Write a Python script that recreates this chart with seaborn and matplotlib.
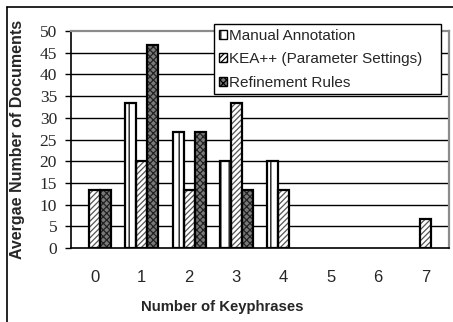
import matplotlib
matplotlib.use("Agg")
import matplotlib.pyplot as plt
from matplotlib.patches import Patch, Rectangle
from matplotlib.lines import Line2D
import seaborn as sns
import pandas as pd

# Distribution of keyphrase counts per document
keyphrase_counts = ["0", "1", "2", "3", "4", "5", "6", "7"]
manual_annotation = [0, 33.3, 26.7, 20.0, 20.0, 0, 0, 0]
kea_parameter = [13.3, 20.0, 13.3, 33.3, 13.3, 0, 0, 6.7]
refinement_rules = [13.3, 46.7, 26.7, 13.3, 0, 0, 0, 0]
series_names = ["Manual Annotation", "KEA++ (Parameter Settings)", "Refinement Rules"]
y_ticks = list(range(0, 55, 5))

df = pd.DataFrame({
    "count": keyphrase_counts * 3,
    "value": manual_annotation + kea_parameter + refinement_rules,
    "method": [series_names[0]] * 8 + [series_names[1]] * 8 + [series_names[2]] * 8,
})

sns.set_style("white")
plt.rcParams["hatch.linewidth"] = 0.9

fig = plt.figure(figsize=(4.53, 3.22), dpi=100)
ax = fig.add_axes([71 / 453, 1 - 248 / 322, 378 / 453, 217 / 322])

face = {series_names[0]: "white", series_names[1]: "white", series_names[2]: "#7a7a7a"}
hatches = {series_names[0]: "||", series_names[1]: "//////", series_names[2]: "xxxxx"}
hatch_col = {series_names[0]: "black", series_names[1]: "#555555", series_names[2]: "#222222"}

sns.barplot(data=df, x="count", y="value", hue="method", order=keyphrase_counts,
            hue_order=series_names, palette=face, width=0.7, gap=0,
            legend=False, ax=ax, zorder=3)

# Style each bar: hatch fill first, then a black outline on top
for container, name in zip(ax.containers, series_names):
    for bar in container:
        if bar.get_height() <= 0:
            bar.set_visible(False)
            continue
        bar.set_hatch(hatches[name])
        bar.set_edgecolor(hatch_col[name])
        bar.set_linewidth(0)
        outline = Rectangle(bar.get_xy(), bar.get_width(), bar.get_height(),
                            fill=False, edgecolor="black", linewidth=1.6, zorder=4)
        ax.add_patch(outline)

ax.set_xlim(-0.5, 7.5)
ax.set_ylim(0, 50)
ax.set_yticks(y_ticks)
ax.set_yticklabels([str(v) for v in y_ticks], family="Liberation Serif", fontsize=12.5)
ax.set_xticks(range(len(keyphrase_counts)))
ax.set_xticklabels(keyphrase_counts, family="Liberation Sans", fontsize=12)
ax.set_xticks([i - 0.5 for i in range(len(keyphrase_counts) + 1)], minor=True)
ax.tick_params(axis="x", which="major", length=0, pad=16)
ax.tick_params(axis="x", which="minor", length=4, width=1, direction="out", color="black")
ax.tick_params(axis="y", which="major", length=4, width=1, direction="out", color="black", pad=6, left=True)

for v in y_ticks[1:-1]:
    ax.axhline(v, color="black", linewidth=1, zorder=1)

for side in ["left", "bottom"]:
    ax.spines[side].set_color("black")
    ax.spines[side].set_linewidth(1.2)
for side in ["top", "right"]:
    ax.spines[side].set_color("#8c8c8c")
    ax.spines[side].set_linewidth(1.6)

ax.set_xlabel("Number of Keyphrases", family="Liberation Sans", fontweight="bold", fontsize=10.7)
ax.set_ylabel("Avergae Number of Documents", family="Liberation Sans", fontweight="bold", fontsize=11.5)
ax.xaxis.set_label_coords(0.40, -0.24)
ax.yaxis.set_label_coords(-0.122, 0.5)

handles = [Patch(facecolor=face[n], edgecolor="black", hatch=hatches[n], linewidth=1) for n in series_names]
leg = fig.legend(handles, series_names, loc="upper left", mode="expand",
                 bbox_to_anchor=(214 / 453, 1 - 92 / 322, 227 / 453, 68 / 322),
                 bbox_transform=fig.transFigure,
                 frameon=True, fancybox=False, shadow=False, framealpha=1,
                 prop={"family": "Liberation Sans", "size": 11},
                 handlelength=0.55, handleheight=0.55, handletextpad=0.15,
                 labelspacing=0.62, borderpad=0.3, borderaxespad=0)
leg.get_frame().set_edgecolor("black")
leg.get_frame().set_linewidth(1)

# Chart area frame along the left and top
fig.add_artist(Line2D([7 / 453, 7 / 453], [0, 1 - 7 / 322], color="black", linewidth=1.2,
                      transform=fig.transFigure))
fig.add_artist(Line2D([7 / 453, 1], [1 - 7 / 322, 1 - 7 / 322], color="black", linewidth=1.2,
                      transform=fig.transFigure))

fig.savefig("out.png", dpi=100)
